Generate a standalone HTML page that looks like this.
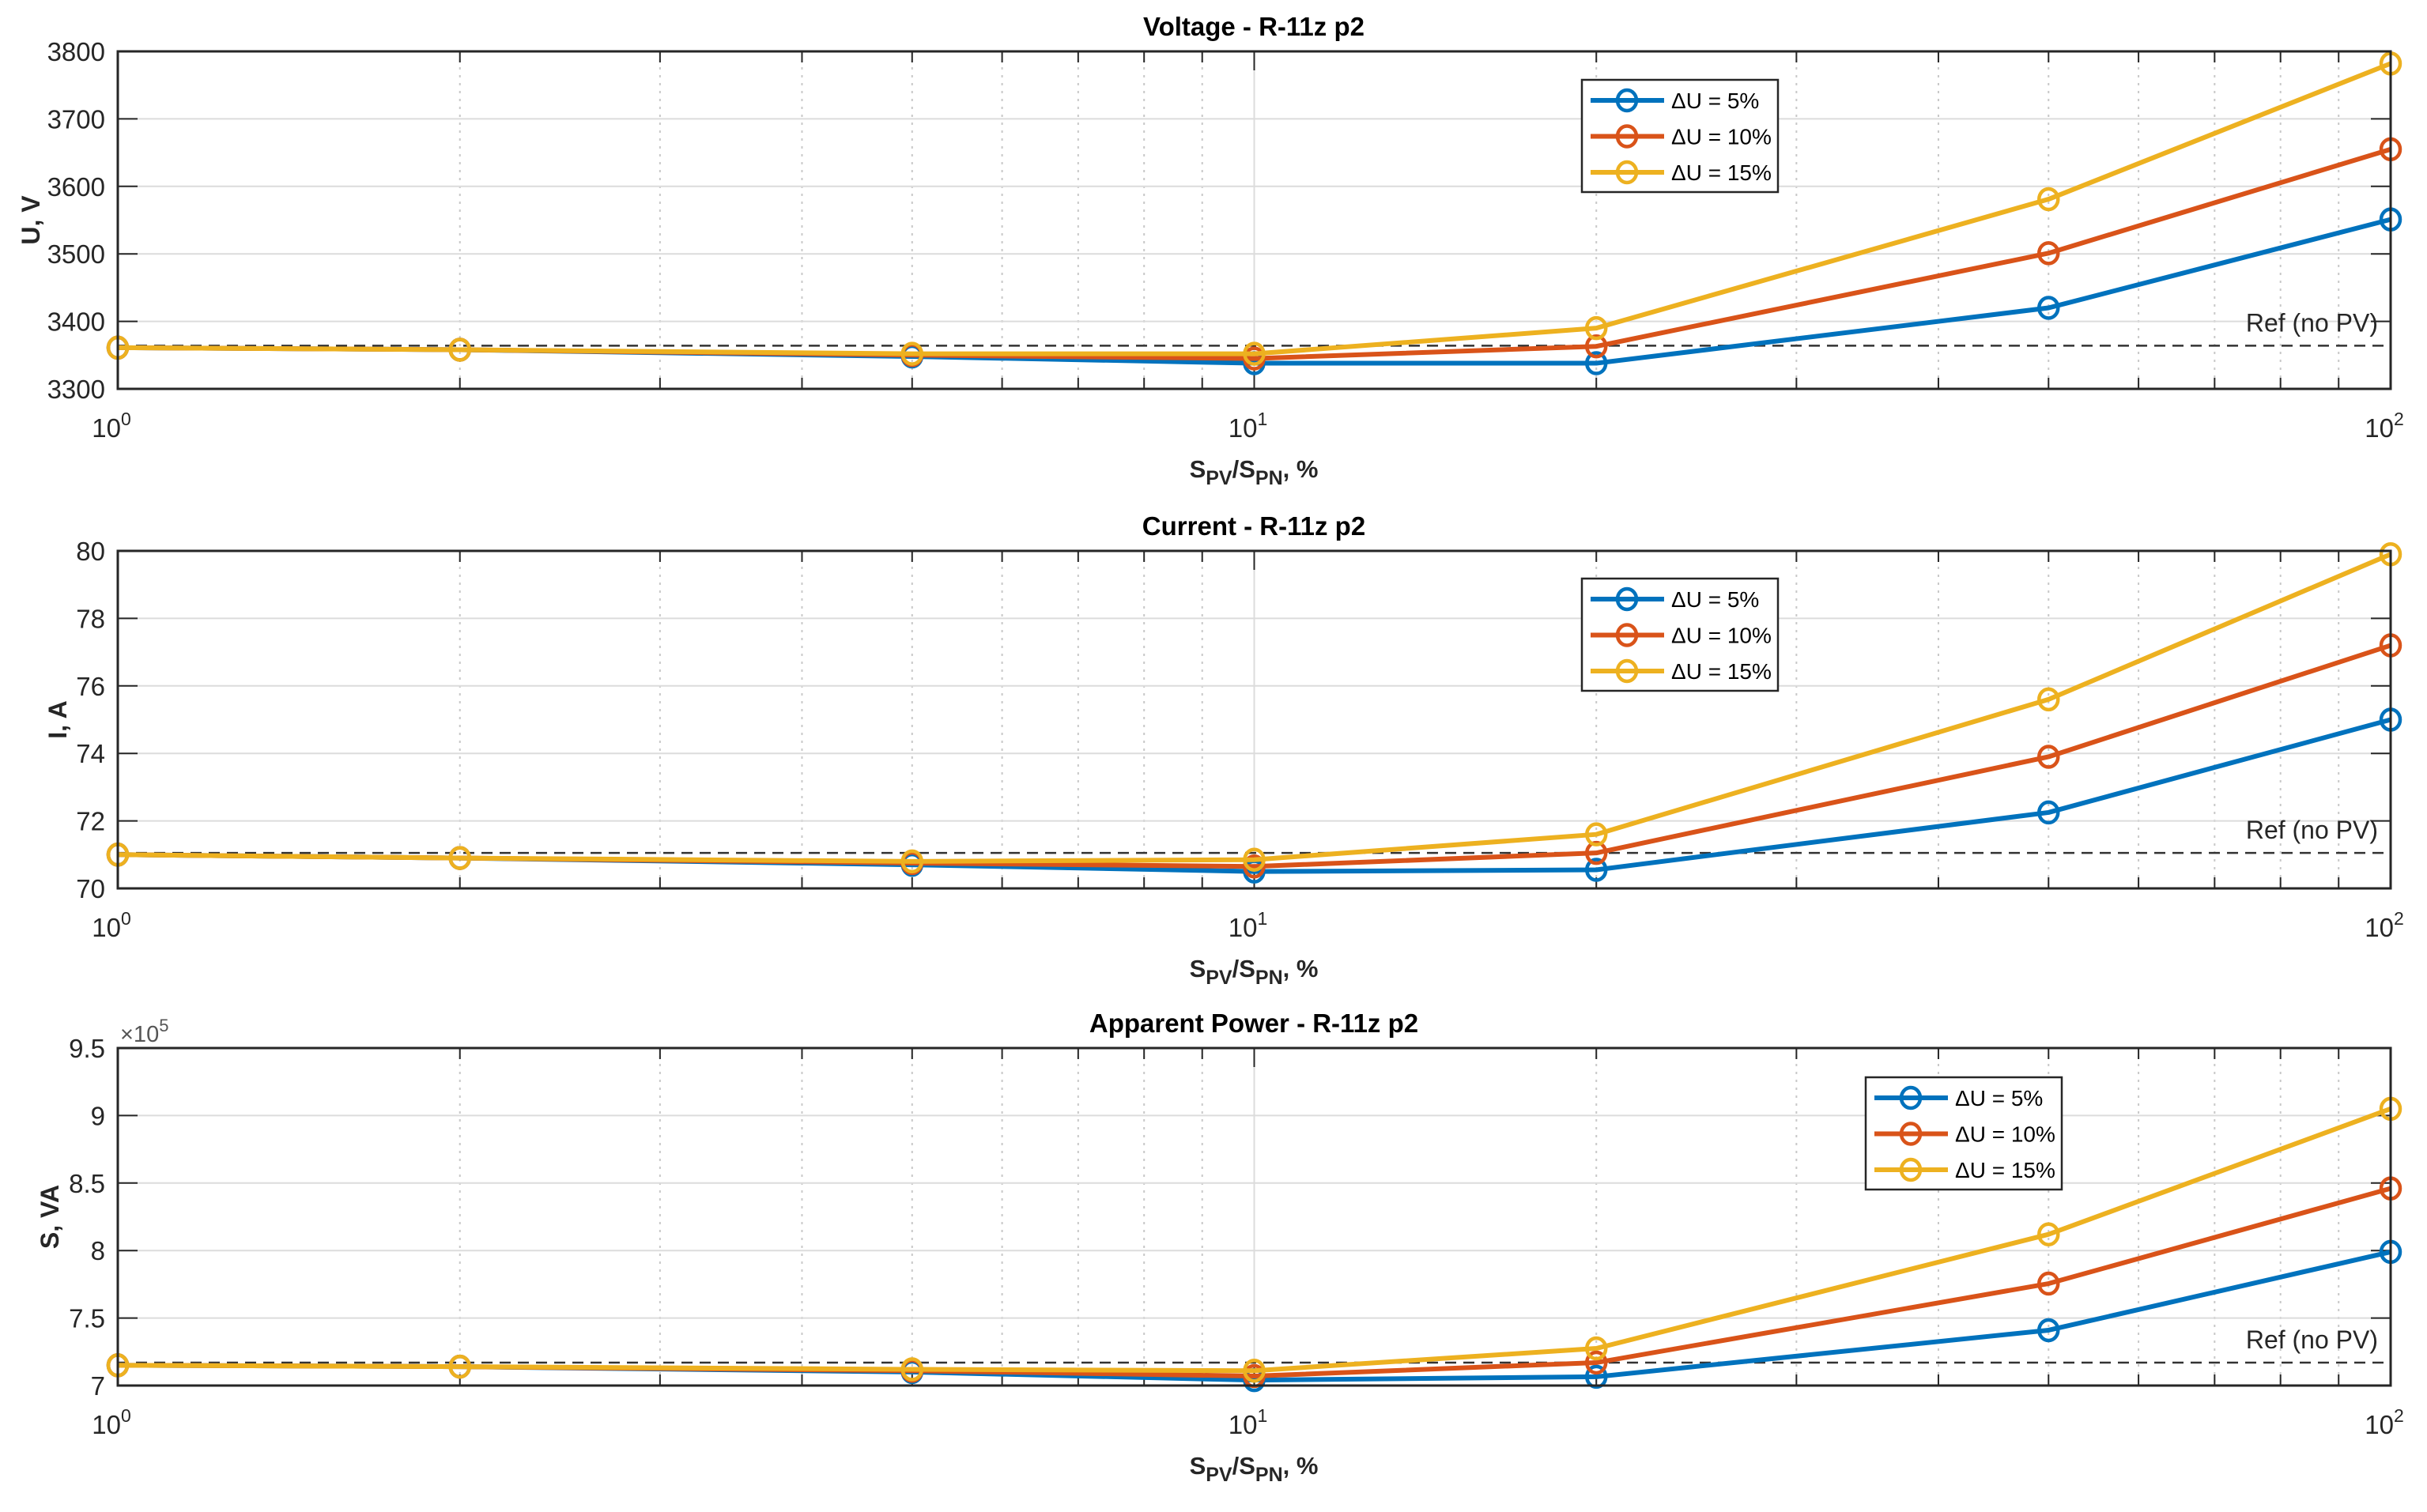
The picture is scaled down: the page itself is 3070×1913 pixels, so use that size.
<!DOCTYPE html>
<html><head><meta charset="utf-8"><style>
html,body{margin:0;padding:0;background:#fff;}
svg{display:block;font-family:"Liberation Sans",Arial,sans-serif;}
</style></head><body>
<svg id="fig" width="3070" height="1913" viewBox="0 0 3070 1913" xmlns="http://www.w3.org/2000/svg"></svg>
<script>
const xCats = [1, 2, 5, 10, 20, 50, 100];
const seriesNames = ["ΔU = 5%", "ΔU = 10%", "ΔU = 15%"];
const volt5  = [3361, 3358, 3348, 3338, 3338, 3420, 3551];
const volt10 = [3361, 3358, 3350, 3345, 3363, 3501, 3655];
const volt15 = [3361, 3358, 3352, 3352, 3390, 3581, 3782];
const voltRef = 3364;
const voltTicks = [3300, 3400, 3500, 3600, 3700, 3800];
const cur5  = [71.0, 70.9, 70.7, 70.5, 70.55, 72.25, 75.0];
const cur10 = [71.0, 70.9, 70.75, 70.65, 71.05, 73.9, 77.2];
const cur15 = [71.0, 70.9, 70.8, 70.85, 71.6, 75.6, 79.9];
const curRef = 71.05;
const curTicks = [70, 72, 74, 76, 78, 80];
const pow5  = [7.15, 7.14, 7.10, 7.04, 7.065, 7.41, 7.99];
const pow10 = [7.15, 7.14, 7.11, 7.07, 7.17, 7.755, 8.46];
const pow15 = [7.15, 7.14, 7.12, 7.11, 7.275, 8.12, 9.05];
const powRef = 7.17;
const powTicks = [7, 7.5, 8, 8.5, 9, 9.5];

const NS = "http://www.w3.org/2000/svg";
const svg = document.getElementById("fig");
const colors = ["#0072BD", "#D95319", "#EDB120"];
const X0 = 149, X1 = 3024;
function xs(v){ return X0 + Math.log10(v) / 2 * (X1 - X0); }
function mk(tag, attrs, parent){
  const e = document.createElementNS(NS, tag);
  for (const k in attrs) e.setAttribute(k, attrs[k]);
  (parent || svg).appendChild(e);
  return e;
}

function panel(cfg){
  const g = mk("g", {});
  
  
  const top = cfg.top, bot = cfg.bot;
  const lo = cfg.ticks[0], hi = cfg.ticks[cfg.ticks.length - 1];
  const ys = v => bot - (v - lo) / (hi - lo) * (bot - top);
  for (let d = 0; d < 2; d++) for (let m = 2; m <= 9; m++) {
    const x = xs(m * Math.pow(10, d));
    const l = mk("line", {x1:x, x2:x, y1:top, y2:bot, stroke:"#c8c8c8", "stroke-width":2, "stroke-dasharray":"3 7"}, g);
    
    
    mk("line", {x1:x, x2:x, y1:bot, y2:bot-14, stroke:"#262626", "stroke-width":2}, g);
    mk("line", {x1:x, x2:x, y1:top, y2:top+14, stroke:"#262626", "stroke-width":2}, g);
  }
  const xm = xs(10);
  const mg = mk("line", {x1:xm, x2:xm, y1:top, y2:bot, stroke:"#dcdcdc", "stroke-width":2}, g);
  
  
  mk("line", {x1:xm, x2:xm, y1:bot, y2:bot-24, stroke:"#262626", "stroke-width":2}, g);
  mk("line", {x1:xm, x2:xm, y1:top, y2:top+24, stroke:"#262626", "stroke-width":2}, g);
  cfg.ticks.forEach(t => {
    const y = ys(t);
    const hl = mk("line", {x1:X0, x2:X1, y1:y, y2:y, stroke:"#dcdcdc", "stroke-width":2}, g);
    
    
    mk("line", {x1:X0, x2:X0+25, y1:y, y2:y, stroke:"#262626", "stroke-width":2}, g);
    mk("line", {x1:X1, x2:X1-25, y1:y, y2:y, stroke:"#262626", "stroke-width":2}, g);
    const tl = mk("text", {x:133, y:y+12, "text-anchor":"end", "font-size":33, fill:"#262626"}, g);
    tl.textContent = cfg.fmt(t);
    
    
  });
  [0,1,2].forEach(p => {
    const x = xs(Math.pow(10,p));
    const t = mk("text", {x:x-8, y:bot+61, "text-anchor":"middle", "font-size":33, fill:"#262626"}, g);
    t.textContent = "10";
    const s = mk("tspan", {dy:-15, "font-size":23}, t);
    s.textContent = String(p);
    
    
  });
  const ry = ys(cfg.ref);
  const rl = mk("line", {x1:X0, x2:X1, y1:ry, y2:ry, stroke:"#333", "stroke-width":2.5, "stroke-dasharray":"14 9"}, g);
  
  
  const rt = mk("text", {x:3008, y:ry-18, "text-anchor":"end", "font-size":32, fill:"#262626"}, g);
  rt.textContent = "Ref (no PV)";
  
  
  cfg.series.forEach((arr, si) => {
    const pts = arr.map((v, i) => xs(xCats[i]) + "," + ys(v)).join(" ");
    const pl = mk("polyline", {points:pts, fill:"none", stroke:colors[si], "stroke-width":6, "stroke-linejoin":"round"}, g);
    
    
    arr.forEach((v, i) => {
      const c = mk("ellipse", {cx:xs(xCats[i]), cy:ys(v), rx:12, ry:13, fill:"none", stroke:colors[si], "stroke-width":4.5}, g);
      
      
    });
  });
  const bx = mk("rect", {x:X0, y:top, width:X1-X0, height:bot-top, fill:"none", stroke:"#262626", "stroke-width":3}, g);
  
  
  const tt = mk("text", {x:1586, y:top-20, "text-anchor":"middle", "font-size":33, "font-weight":"bold", fill:"#000"}, g);
  tt.textContent = cfg.title;
  
  
  const xl = mk("text", {x:1586, y:bot+112, "text-anchor":"middle", "font-size":31, "font-weight":"bold", fill:"#262626"}, g);
  xl.innerHTML = 'S<tspan dy="9" font-size="25">PV</tspan><tspan dy="-9">/S</tspan><tspan dy="9" font-size="25">PN</tspan><tspan dy="-9">, %</tspan>';
  
  
  const cy = (top + bot) / 2;
  const yl = mk("text", {x:cfg.ylx, y:cy, transform:`rotate(-90 ${cfg.ylx} ${cy})`, "text-anchor":"middle", "font-size":32, "font-weight":"bold", fill:"#262626"}, g);
  yl.textContent = cfg.ylabel;
  
  
  const L = cfg.legend;
  const lg = mk("g", {}, g);
  
  
  mk("rect", {x:L.x, y:L.y, width:248, height:142, fill:"#fff", stroke:"#262626", "stroke-width":2.5}, lg);
  seriesNames.forEach((n, i) => {
    const ey = L.y + 26 + i * 45.5;
    const le = mk("g", {}, lg);
    
    
    mk("line", {x1:L.x+11, x2:L.x+104, y1:ey, y2:ey, stroke:colors[i], "stroke-width":6}, le);
    mk("ellipse", {cx:L.x+57, cy:ey, rx:12, ry:13, fill:"none", stroke:colors[i], "stroke-width":4.5}, le);
    const t = mk("text", {x:L.x+113, y:ey+10, "font-size":28, fill:"#000"}, le);
    t.textContent = n;
  });
  if (cfg.exp) {
    const e = mk("text", {x:152, y:top-8, "font-size":29, fill:"#555"}, g);
    e.innerHTML = '×10<tspan dy="-13" font-size="22">5</tspan>';
    
    
  }
}

panel({name:"voltage", top:65, bot:492, ticks:voltTicks, series:[volt5, volt10, volt15], ref:voltRef,
  fmt:t=>String(t), title:"Voltage - R-11z p2", ylabel:"U, V", ylx:50, legend:{x:2001, y:101}});
panel({name:"current", top:697, bot:1124, ticks:curTicks, series:[cur5, cur10, cur15], ref:curRef,
  fmt:t=>String(t), title:"Current - R-11z p2", ylabel:"I, A", ylx:84, legend:{x:2001, y:732}});
panel({name:"power", top:1326, bot:1753, ticks:powTicks, series:[pow5, pow10, pow15], ref:powRef,
  fmt:t=>String(t), title:"Apparent Power - R-11z p2", ylabel:"S, VA", ylx:74, legend:{x:2360, y:1363}, exp:true});
</script>
</body></html>
